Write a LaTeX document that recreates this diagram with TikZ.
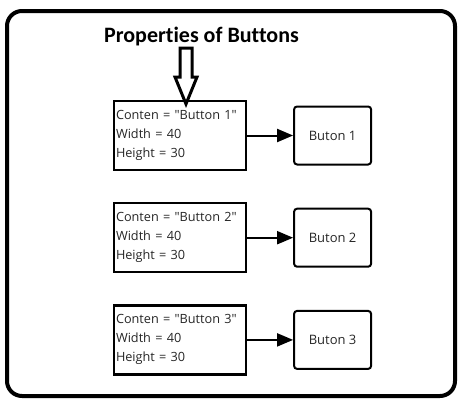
\documentclass[tikz,border=0pt]{standalone}
\usepackage{fontspec}
\setmainfont{Open Sans}
\newfontfamily\titlefont[Ligatures=NoCommon]{Carlito}
\usepackage{tikz}
\usetikzlibrary{positioning, arrows.meta}

\begin{document}
\begin{tikzpicture}[x=1pt, y=-1pt,
                    every node/.style = {text=black!85},
                    props/.style = {draw=black, line width=2.2pt, minimum width=132pt, minimum height=69pt,
                                    inner sep=0pt, align=left, text width=128pt,
                                    font=\fontsize{12.7}{19}\selectfont},
                    btn/.style = {draw=black, line width=2pt, rounded corners=3pt, minimum width=77pt,
                                  minimum height=58pt, font=\fontsize{13}{15}\selectfont},
                    every edge/.style = {draw, line width=2pt, -{Triangle[length=16pt, width=13pt]}}]
                \useasboundingbox (0,0) rectangle (461,402);
                \draw[line width=4pt, rounded corners=15pt] (7,11) rectangle (455,396);
                \node (t) [text=black, font=\titlefont\bfseries\fontsize{22}{26}\selectfont] at (201.5,37) {Properties of Buttons};
                \node (p1) [props] at (180,135.5) {Conten = \textquotedbl Button 1\textquotedbl\\Width = 40\\Height = 30};
                \node (p2) [props, below = 31pt of p1] {Conten = \textquotedbl Button 2\textquotedbl\\Width = 40\\Height = 30};
                \node (p3) [props, below = 31pt of p2] {Conten = \textquotedbl Button 3\textquotedbl\\Width = 40\\Height = 30};
                \node (b1) [btn, right = 46pt of p1] {Buton 1};
                \node (b2) [btn, right = 46pt of p2] {Buton 2};
                \node (b3) [btn, right = 46pt of p3] {Buton 3};
                % hollow arrow from the title down to the first box
                \draw[line width=3pt, fill=white, line join=miter]
                    (180,48) -- (192,48) -- (192,77) -- (197,77) -- (186,104) -- (175,77) -- (180,77) -- cycle;
                \draw (p1) edge (b1);
                \draw (p2) edge (b2);
                \draw (p3) edge (b3);
            \end{tikzpicture}
\end{document}
